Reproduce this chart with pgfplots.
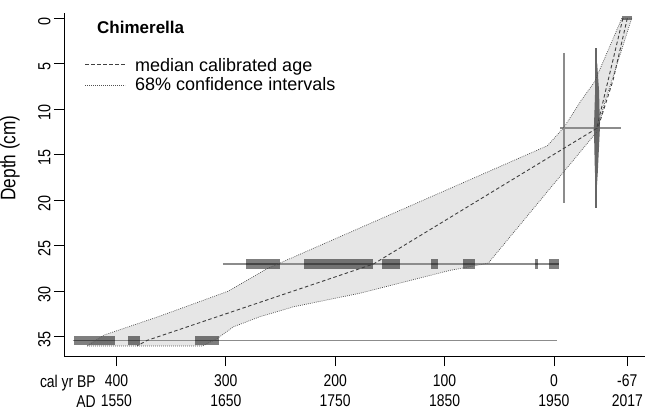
\documentclass[border=0pt]{standalone}
\usepackage{pgfplots}
\pgfplotsset{compat=1.18}
\usepackage{fontspec}
\setmainfont{Liberation Sans}
\newfontfamily\narrow{Liberation Sans}[FakeStretch=0.82]

\definecolor{envfill}{HTML}{E6E6E6}
\definecolor{medcol}{HTML}{404040}
\definecolor{dotcol}{HTML}{505050}
\definecolor{datecol}{HTML}{8C8C8C}
\definecolor{darkdate}{HTML}{666666}

% x = -(cal yr BP), y = -depth (cm)
\begin{document}
\begin{tikzpicture}
\path[use as bounding box] (-64pt,-54pt) rectangle (581pt,356pt);
\begin{axis}[
    at={(0pt,0pt)}, anchor=south west,
    scale only axis,
    width=581pt, height=342.7pt,
    xmin=-447.9, xmax=83.2,
    ymin=-37.11, ymax=0.55,
    axis lines*=left,
    axis line style={line width=0.8pt},
    tick align=outside,
    major tick length=10pt,
    tick style={line width=0.8pt, black},
    xtick={-400,-300,-200,-100,0,67},
    xticklabels={{400\\1550},{300\\1650},{200\\1750},{100\\1850},{0\\1950},{-67\\2017}},
    xticklabel style={align=center, yshift=-5pt, font=\narrow\fontsize{17}{20}\selectfont},
    ytick={0,-5,-10,-15,-20,-25,-30,-35},
    yticklabels={0,5,10,15,20,25,30,35},
    yticklabel style={rotate=90, anchor=south, xshift=-3pt, font=\narrow\fontsize{17.5}{20}\selectfont},
    unbounded coords=jump,
]
% confidence envelope
\addplot[fill=envfill, draw=none] coordinates {
    (62,0) (37,-7) (25,-9) (9,-12) (-6,-14) (-262,-27.5) (-298,-30)
    (-362,-32.8) (-411,-34.8) (-427,-36) (-321,-36) (-308,-35.2)
    (-293,-33.9) (-269,-32.8) (-238,-31.7) (-177,-30.2) (-95,-27.7)
    (-77,-27.3) (-60,-26.9) (39,-12.5) (47,-9) (53,-6.8) (71,0) (62,0)
};
% dated levels
\addplot[datecol, line width=1.2pt] coordinates {
    (5.5,-12.05) (61,-12.05) (nan,nan)
    (-302.6,-27) (4.6,-27) (nan,nan)
    (-440,-35.4) (2.5,-35.4) (nan,nan)
    (9.1,-3.8) (9.1,-20.3)
};
\addplot[darkdate, line width=1.2pt] coordinates {(38.4,-3.3) (38.4,-20.8)};
\addplot[fill=darkdate, draw=none] coordinates {
    (38.4,-4.5) (37.6,-8) (36.5,-12) (37.2,-16) (38.4,-20)
    (40,-17) (42,-12) (41.2,-8) (39.5,-5)
};
\addplot[black, opacity=0.5, line width=4.3pt] coordinates {(62,0) (71,0)};
\addplot[black, opacity=0.5, line width=10pt] coordinates {
    (-281.5,-27) (-250.5,-27) (nan,nan)
    (-228.5,-27) (-165.4,-27) (nan,nan)
    (-157.2,-27) (-140.8,-27) (nan,nan)
    (-112.4,-27) (-106,-27) (nan,nan)
    (-83.2,-27) (-72.2,-27) (nan,nan)
    (-17.4,-27) (-14.6,-27) (nan,nan)
    (-4.6,-27) (4.6,-27)
};
\addplot[black, opacity=0.5, line width=9pt] coordinates {
    (-438.6,-35.4) (-401.4,-35.4) (nan,nan)
    (-389,-35.4) (-378.4,-35.4) (nan,nan)
    (-328,-35.4) (-306,-35.4)
};
% envelope outline
\addplot[dotcol, line width=0.7pt, dash pattern=on 0.8pt off 1.2pt] coordinates {
    (62,0) (37,-7) (25,-9) (9,-12) (-6,-14) (-262,-27.5) (-298,-30)
    (-362,-32.8) (-411,-34.8) (-427,-36) (-321,-36) (-308,-35.2)
    (-293,-33.9) (-269,-32.8) (-238,-31.7) (-177,-30.2) (-95,-27.7)
    (-77,-27.3) (-60,-26.9) (39,-12.5) (47,-9) (53,-6.8) (71,0) (62,0)
};
% median calibrated age
\addplot[medcol, line width=0.9pt, dash pattern=on 3.5pt off 2.5pt] coordinates {
    (63,0) (39,-12.1)
};
\addplot[medcol, line width=0.9pt, dash pattern=on 3.5pt off 2.5pt] coordinates {
    (67,0) (54,-6.8) (40,-12.1)
};
\addplot[medcol, line width=0.9pt, dash pattern=on 3.5pt off 2.5pt] coordinates {
    (39,-12.1) (-165,-27) (-372,-35.4) (-381,-36)
};
\end{axis}
% title and legend
\node[anchor=base west, inner sep=0pt, font=\bfseries\fontsize{17}{20}\selectfont] at (33pt,322.7pt) {Chimerella};
\draw[medcol, line width=0.9pt, dash pattern=on 3.5pt off 2.5pt] (21pt,291.7pt) -- (61pt,291.7pt);
\draw[dotcol, line width=0.7pt, dash pattern=on 0.8pt off 1.2pt] (21pt,271pt) -- (61pt,271pt);
\node[anchor=base west, inner sep=0pt, font=\fontsize{18}{21}\selectfont] at (71pt,284.3pt) {median calibrated age};
\node[anchor=base west, inner sep=0pt, font=\fontsize{18}{21}\selectfont] at (71pt,265.3pt) {68\% confidence intervals};
% axis titles
\node[rotate=90, font=\narrow\fontsize{21}{24}\selectfont] at (-54pt,198pt) {Depth (cm)};
\node[anchor=base east, inner sep=0pt, font=\narrow\fontsize{17}{20}\selectfont] at (32pt,-31.5pt) {cal yr BP};
\node[anchor=base east, inner sep=0pt, font=\narrow\fontsize{17}{20}\selectfont] at (32pt,-51.5pt) {AD};
\end{tikzpicture}
\end{document}
